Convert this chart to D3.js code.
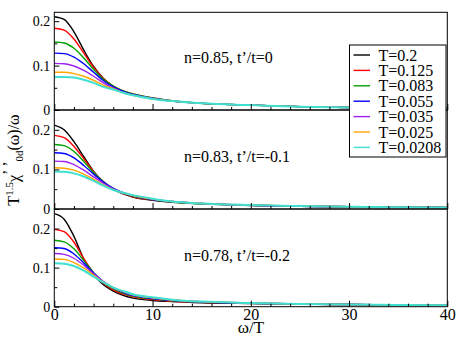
<!DOCTYPE html>
<html>
<head>
<meta charset="utf-8">
<script src="https://cdn.jsdelivr.net/npm/d3@7"></script>
<style>
  body { margin: 0; background: #fff; }
  svg text { font-family: "Liberation Serif", "DejaVu Serif", "Times New Roman", Times, serif; }
</style>
</head>
<body>
<svg id="chart" width="457" height="341"></svg>
<script>
// omega/T sample points shared by every curve
var omega = [0, 1, 2, 3, 4, 5, 6, 7, 8, 10, 12, 15, 20, 25, 30, 35, 40];

var temps = ["T=0.2", "T=0.125", "T=0.083", "T=0.055", "T=0.035", "T=0.025", "T=0.0208"];
var colors = ["#000000", "#ff0000", "#00a000", "#0000ff", "#a020f0", "#ffa500", "#40e0d0"];

var panelLabels = ["n=0.85, t\u2019/t=0", "n=0.83, t\u2019/t=-0.1", "n=0.78, t\u2019/t=-0.2"];
var yTickLabels = [0, 0.1, 0.2];
var xTickLabels = [0, 10, 20, 30, 40];

// n=0.85, t'/t=0
var panelA = [
  [.210, .204, .176, .135, .098, .071, .053, .042, .035, .026, .020, .015, .011, .0075, .0055, .0045, .0035],
  [.184, .180, .160, .128, .096, .071, .054, .043, .036, .027, .021, .015, .011, .0075, .0055, .0045, .0035],
  [.153, .151, .139, .117, .091, .069, .054, .043, .036, .027, .021, .015, .011, .0075, .0055, .0045, .0035],
  [.128, .127, .119, .104, .085, .066, .052, .042, .035, .026, .020, .015, .011, .0075, .0055, .0045, .0035],
  [.105, .104, .099, .089, .076, .061, .049, .040, .034, .026, .020, .015, .011, .0075, .0055, .0045, .0035],
  [.085, .085, .082, .076, .067, .056, .048, .039, .033, .025, .020, .015, .011, .0075, .0055, .0045, .0035],
  [.0745, .0745, .073, .068, .061, .052, .046, .039, .033, .025, .020, .015, .011, .0075, .0055, .0045, .0035]
];
// n=0.83, t'/t=-0.1
var panelB = [
  [.212, .200, .170, .132, .095, .068, .050, .038, .030, .022, .017, .013, .009, .007, .0055, .0045, .004],
  [.186, .180, .158, .127, .094, .069, .051, .039, .031, .023, .018, .013, .0095, .007, .0055, .0045, .004],
  [.163, .160, .145, .120, .092, .069, .052, .040, .032, .024, .018, .013, .0095, .007, .0055, .0045, .004],
  [.142, .140, .129, .110, .088, .068, .052, .041, .033, .024, .019, .014, .0095, .007, .0055, .0045, .004],
  [.121, .120, .112, .098, .081, .065, .051, .041, .034, .025, .019, .014, .0095, .007, .0055, .0045, .004],
  [.104, .103, .098, .088, .075, .061, .049, .041, .034, .025, .019, .014, .010, .0075, .0055, .0045, .004],
  [.095, .094, .090, .082, .071, .059, .048, .041, .035, .026, .019, .014, .010, .0075, .0055, .0045, .004]
];
// n=0.78, t'/t=-0.2
var panelC = [
  [.238, .224, .180, .122, .082, .056, .040, .029, .022, .016, .013, .010, .008, .0065, .0055, .0045, .004],
  [.198, .192, .165, .123, .086, .060, .043, .032, .025, .018, .014, .011, .0085, .0065, .0055, .0045, .004],
  [.170, .166, .148, .118, .087, .062, .046, .035, .027, .020, .015, .012, .009, .007, .0055, .0045, .004],
  [.151, .149, .135, .112, .086, .064, .048, .037, .029, .021, .016, .012, .009, .007, .0055, .0045, .004],
  [.136, .134, .124, .106, .084, .064, .049, .038, .030, .022, .017, .013, .0095, .007, .0055, .0045, .004],
  [.122, .121, .113, .099, .081, .063, .049, .039, .031, .023, .017, .013, .0095, .007, .0055, .0045, .004],
  [.111, .110, .104, .092, .077, .062, .049, .040, .032, .024, .018, .013, .0095, .007, .0055, .0045, .004]
];

var panels = [panelA, panelB, panelC];
var yMax = [0.22, 0.25, 0.25];

var svg = d3.select("#chart");
var left = 54.3, right = 447.3;
var tops = [12.3, 110, 209], bottoms = [110, 209, 306.7];
var serif = "'Liberation Serif', 'DejaVu Serif', 'Times New Roman', serif";

var x = d3.scaleLinear().domain([0, 40]).range([left, right]);

panels.forEach(function (series, p) {
  var y = d3.scaleLinear().domain([0, yMax[p]]).range([bottoms[p], tops[p]]);
  var g = svg.append("g");

  g.append("clipPath").attr("id", "clip" + p)
    .append("rect")
    .attr("x", left).attr("y", tops[p])
    .attr("width", right - left).attr("height", bottoms[p] - tops[p]);

  var line = d3.line()
    .x(function (d, i) { return x(omega[i]); })
    .y(function (d) { return y(d); })
    .curve(d3.curveMonotoneX);

  var curves = g.append("g").attr("clip-path", "url(#clip" + p + ")");
  series.forEach(function (vals, s) {
    curves.append("path")
      .attr("d", line(vals))
      .attr("fill", "none")
      .attr("stroke", colors[s])
      .attr("stroke-width", s == 6 ? 2 : 1.4);
  });

  // frame
  g.append("rect")
    .attr("x", left).attr("y", tops[p])
    .attr("width", right - left).attr("height", bottoms[p] - tops[p])
    .attr("fill", "none").attr("stroke", "#000").attr("stroke-width", 1);

  // y axis, ticks inward
  var ya = g.append("g").attr("transform", "translate(" + left + ",0)")
    .call(d3.axisLeft(y).tickValues(yTickLabels).tickSize(-5).tickSizeOuter(0).tickPadding(4)
      .tickFormat(function (d) { return d === 0 ? "0" : d3.format(".1f")(d); }));
  ya.attr("font-family", serif).attr("font-size", 14);
  g.append("g").attr("transform", "translate(" + left + ",0)")
    .call(d3.axisLeft(y).tickValues([0.05, 0.15]).tickSize(-3).tickSizeOuter(0).tickFormat(""));

  // x axis, ticks inward
  var xa = g.append("g").attr("transform", "translate(0," + bottoms[p] + ")")
    .call(d3.axisBottom(x).tickValues(xTickLabels).tickSize(-6).tickSizeOuter(0).tickPadding(2)
      .tickFormat(p == 2 ? d3.format("d") : ""));
  xa.attr("font-family", serif).attr("font-size", 16);
  g.append("g").attr("transform", "translate(0," + bottoms[p] + ")")
    .call(d3.axisBottom(x).tickValues(d3.range(2, 40, 2).filter(function (v) { return v % 10 != 0; }))
      .tickSize(-3).tickSizeOuter(0).tickFormat(""));

  g.selectAll(".domain").remove();
  g.selectAll(".tick line").attr("stroke", "#000");
  g.selectAll(".tick text").attr("fill", "#000");

  g.append("text")
    .attr("x", 184).attr("y", [63, 162, 261][p])
    .attr("font-size", 16)
    .text(panelLabels[p]);
});

// legend
var leg = svg.append("g").attr("transform", "translate(349.5,45)");
leg.append("rect").attr("width", 96.5).attr("height", 112)
  .attr("fill", "#fff").attr("stroke", "#000").attr("stroke-width", 1);
temps.forEach(function (t, i) {
  var yy = 10 + i * 15.4;
  leg.append("line").attr("x1", 4).attr("x2", 20.5).attr("y1", yy).attr("y2", yy)
    .attr("stroke", colors[i]).attr("stroke-width", 1.4);
  leg.append("text").attr("x", 29).attr("y", yy + 5.5).attr("font-size", 16).text(t);
});

// axis titles
svg.append("text")
  .attr("x", 251).attr("y", 333)
  .attr("text-anchor", "middle")
  .attr("font-size", 17)
  .text("\u03c9/T");

var yl = svg.append("text")
  .attr("transform", "translate(19,160) rotate(-90)")
  .attr("text-anchor", "middle")
  .attr("font-size", 16);
yl.append("tspan").text("T");
yl.append("tspan").attr("dy", -6).attr("font-size", 11).text("1.5");
yl.append("tspan").attr("dy", 6).text("\u03c7");
yl.append("tspan").attr("dy", -5).text("\u2019 \u2019");
yl.append("tspan").attr("dy", 9).attr("font-size", 11).text("0d");
yl.append("tspan").attr("dy", -4).text("(\u03c9)/\u03c9");
</script>
</body>
</html>
